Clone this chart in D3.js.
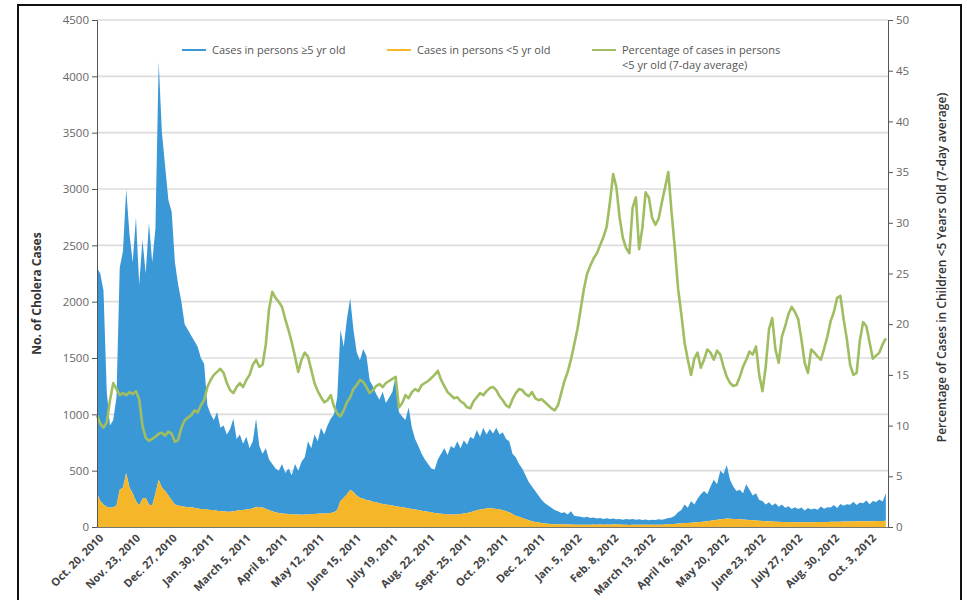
<!DOCTYPE html>
<html>
<head>
<meta charset="utf-8">
<script src="https://cdn.jsdelivr.net/npm/d3@7"></script>
<style>
  body { margin: 0; background: #fff; }
  svg { display: block; font-family: "Open Sans", "Noto Sans", sans-serif; }
</style>
</head>
<body>
<svg id="chart" width="967" height="600"></svg>
<script>
// Daily cholera cases, sampled every 3 days from Oct. 20, 2010
const startDate = "2010-10-20";
const stepDays = 3;

// Cases in persons <5 yr old
const casesUnder5 = [
  300,230,200,180,170,175,190,330,350,480,
  350,300,230,190,250,260,200,190,300,420,
  350,320,280,240,200,190,185,180,175,175,
  170,165,160,160,155,150,150,145,140,140,
  135,135,140,145,150,150,155,160,165,180,
  170,175,160,150,140,130,125,120,118,115,
  112,110,110,108,110,112,115,115,118,120,
  120,122,125,130,150,230,260,290,330,310,
  280,260,250,240,235,225,220,210,205,200,
  195,190,185,180,175,170,165,160,155,150,
  145,140,135,130,125,120,118,115,112,110,
  110,112,115,120,125,130,140,148,155,160,
  165,168,165,160,155,150,140,130,115,100,
  90,80,70,60,52,45,40,35,30,28,
  25,25,24,24,23,22,22,21,20,20,
  20,21,21,22,21,22,21,22,21,24,
  23,22,19,19,18,21,21,19,19,21,
  20,20,19,20,21,23,25,26,27,30,
  32,35,36,38,40,42,45,48,52,56,
  60,64,68,72,75,74,72,70,68,66,
  64,62,60,58,56,54,52,50,48,47,
  46,45,44,44,43,43,42,42,42,42,
  43,43,44,44,45,45,46,46,47,47,
  48,48,49,49,50,50,51,51,52,52,
  53,53,54,55
];

// Cases in persons >=5 yr old
const casesOver5 = [
  2000,2020,1900,1020,730,775,960,1970,2100,2520,
  2250,2050,2520,1960,2300,1990,2500,2160,2350,3710,
  3150,2880,2620,2560,2150,1960,1815,1620,1575,1525,
  1480,1435,1340,1290,925,850,800,875,740,760,
  685,735,820,635,670,590,645,540,595,780,
  550,475,540,450,420,390,375,440,362,405,
  348,450,390,472,510,648,585,705,642,760,
  700,778,835,870,1000,1520,1340,1560,1700,1440,
  1270,1220,1330,1280,1065,1025,960,920,995,900,
  955,1010,1155,840,805,780,895,720,625,570,
  505,460,425,390,385,480,532,585,528,610,
  590,648,585,650,605,670,640,712,645,720,
  655,702,665,720,665,690,640,630,535,520,
  470,440,390,340,308,275,240,205,180,162,
  145,125,116,101,107,88,118,79,75,70,
  65,69,59,63,54,58,51,56,49,51,
  45,50,46,51,48,49,43,49,43,45,
  40,45,43,48,43,49,55,59,73,100,
  118,165,134,192,160,208,245,272,238,304,
  360,316,432,398,475,346,288,250,262,234,
  316,268,220,242,184,176,148,170,142,163,
  134,155,126,141,117,132,118,131,104,126,
  112,122,109,138,117,130,128,149,121,158,
  140,155,149,176,146,168,160,184,151,179,
  170,190,172,245
];

// Percentage of cases in persons <5 yr old (7-day average)
const pctUnder5 = [
  11.0,10.2,9.8,10.3,12.5,14.2,13.6,13.0,13.2,13.0,
  13.3,13.1,13.4,12.6,10.0,8.8,8.5,8.7,8.9,9.2,
  9.3,9.0,9.4,9.2,8.4,8.6,9.8,10.5,10.8,11.0,
  11.5,11.3,12.0,12.5,13.8,14.5,15.0,15.3,15.6,15.2,
  14.2,13.5,13.2,13.8,14.2,13.8,14.5,15.0,16.0,16.5,
  15.8,16.0,18.0,21.5,23.2,22.6,22.2,21.7,20.5,19.4,
  18.2,16.8,15.3,16.5,17.2,16.8,15.5,14.2,13.4,12.8,
  12.3,12.5,13.0,11.9,11.2,10.9,11.5,12.3,12.8,13.6,
  14.0,14.5,14.3,13.8,13.2,13.5,13.9,14.1,13.8,14.2,
  14.4,14.6,14.8,11.8,12.2,13.0,12.7,13.3,13.6,13.4,
  14.0,14.2,14.4,14.7,15.0,15.4,14.5,13.9,13.3,13.0,
  12.7,12.8,12.4,12.2,11.8,11.7,12.4,12.8,13.2,13.0,
  13.4,13.7,13.8,13.5,12.9,12.5,12.0,11.8,12.6,13.2,
  13.6,13.5,13.1,12.9,13.3,12.7,12.5,12.6,12.3,12.0,
  11.7,11.5,12.0,13.2,14.4,15.3,16.5,18.0,19.5,21.5,
  23.5,25.0,25.8,26.5,27.0,27.8,28.6,29.6,32.0,34.8,
  33.5,30.5,28.5,27.5,27.0,31.5,32.5,27.4,29.5,33.0,
  32.5,30.5,29.8,30.4,32.0,33.5,35.0,31.0,27.5,23.5,
  21.0,18.2,16.5,15.0,16.6,17.2,15.7,16.5,17.5,17.2,
  16.5,17.4,17.0,15.8,14.8,14.2,13.9,14.0,14.8,15.8,
  16.5,17.3,17.0,17.8,15.0,13.4,15.8,19.5,20.6,17.5,
  16.2,18.8,19.8,21.0,21.7,21.2,20.5,18.5,16.2,15.2,
  17.5,17.2,16.8,16.5,17.6,18.8,20.3,21.2,22.6,22.8,
  20.5,18.5,16.0,15.0,15.2,18.4,20.2,19.8,18.2,16.6,
  16.9,17.2,18.0,18.6
];

// Axis ticks
const tickDates = [
  "2010-10-20","2010-11-23","2010-12-27","2011-01-30","2011-03-05","2011-04-08",
  "2011-05-12","2011-06-15","2011-07-19","2011-08-22","2011-09-25","2011-10-29",
  "2011-12-02","2012-01-05","2012-02-08","2012-03-13","2012-04-16","2012-05-20",
  "2012-06-23","2012-07-27","2012-08-30","2012-10-03"
];
const tickLabels = [
  "Oct. 20, 2010","Nov. 23, 2010","Dec. 27, 2010","Jan. 30, 2011","March 5, 2011","April 8, 2011",
  "May 12, 2011","June 15, 2011","July 19, 2011","Aug. 22, 2011","Sept. 25, 2011","Oct. 29, 2011",
  "Dec. 2, 2011","Jan. 5, 2012","Feb. 8, 2012","March 13, 2012","April 16, 2012","May 20, 2012",
  "June 23, 2012","July 27, 2012","Aug. 30, 2012","Oct. 3, 2012"
];
const leftTicks = [0,500,1000,1500,2000,2500,3000,3500,4000,4500];
const rightTicks = [0,5,10,15,20,25,30,35,40,45,50];

const colors = { over5: "#3a98d6", under5: "#f6b62a", pct: "#a0bd62" };

const parse = d3.utcParse("%Y-%m-%d");
const start = parse(startDate);
const rows = casesUnder5.map((u, i) => ({
  date: d3.utcDay.offset(start, i * stepDays),
  under5: u,
  over5: casesOver5[i],
  pct: pctUnder5[i]
}));

const svg = d3.select("#chart");
const m = { left: 97, right: 888, top: 20, bottom: 527 };

const x = d3.scaleUtc()
  .domain([start, parse("2012-10-20")])
  .range([m.left, m.right]);
const yL = d3.scaleLinear().domain([0, 4500]).range([m.bottom, m.top]);
const yR = d3.scaleLinear().domain([0, 50]).range([m.bottom, m.top]);

// outer frame
svg.append("rect")
  .attr("x", 18).attr("y", 5).attr("width", 943).attr("height", 620)
  .attr("fill", "none").attr("stroke", "#111").attr("stroke-width", 2);

// gridlines
svg.append("g").selectAll("line")
  .data(leftTicks.filter(d => d > 0))
  .join("line")
  .attr("x1", m.left).attr("x2", m.right)
  .attr("y1", d => yL(d)).attr("y2", d => yL(d))
  .attr("stroke", "#dcdcdc").attr("stroke-width", 1.6);

// stacked areas
const stack = d3.stack().keys(["under5", "over5"]);
const series = stack(rows);
const area = d3.area()
  .x(d => x(d.data.date))
  .y0(d => yL(d[0]))
  .y1(d => yL(d[1]));

svg.append("g").selectAll("path")
  .data(series.slice().reverse())
  .join("path")
  .attr("fill", d => colors[d.key])
  .attr("d", area);

// percentage line
const line = d3.line()
  .x(d => x(d.date))
  .y(d => yR(d.pct));
svg.append("path")
  .datum(rows)
  .attr("fill", "none")
  .attr("stroke", colors.pct)
  .attr("stroke-width", 2.6)
  .attr("stroke-linejoin", "round")
  .attr("d", line);

const numFmt = d3.format("d");

// left axis
const gL = svg.append("g")
  .attr("transform", `translate(${m.left},0)`)
  .call(d3.axisLeft(yL).tickValues(leftTicks).tickFormat(numFmt).tickSize(5).tickPadding(3));
gL.select(".domain").attr("stroke", "#555");
gL.selectAll(".tick line").attr("stroke", "#555");
gL.selectAll("text").attr("fill", "#666").attr("font-size", 11.5)
  .attr("font-family", "'Open Sans', sans-serif");

// right axis
const gR = svg.append("g")
  .attr("transform", `translate(${m.right},0)`)
  .call(d3.axisRight(yR).tickValues(rightTicks).tickFormat(numFmt).tickSize(5).tickPadding(3));
gR.select(".domain").attr("stroke", "#555");
gR.selectAll(".tick line").attr("stroke", "#555");
gR.selectAll("text").attr("fill", "#666").attr("font-size", 11.5)
  .attr("font-family", "'Open Sans', sans-serif");

// bottom axis
const gB = svg.append("g")
  .attr("transform", `translate(0,${m.bottom})`)
  .call(d3.axisBottom(x)
    .tickValues(tickDates.map(parse))
    .tickFormat((d, i) => tickLabels[i])
    .tickSize(0).tickPadding(0));
gB.select(".domain").attr("stroke", "#777").attr("stroke-width", 1);
gB.selectAll("text")
  .attr("font-size", 11)
  .attr("font-weight", 700)
  .attr("fill", "#444")
  .attr("font-family", "'Open Sans', sans-serif")
  .attr("text-anchor", "end")
  .attr("dy", "0.35em")
  .attr("transform", "translate(4,9) rotate(-45)");

// axis titles
svg.append("text")
  .attr("transform", `translate(41,${(m.top + m.bottom) / 2 + 20}) rotate(-90)`)
  .attr("text-anchor", "middle")
  .attr("font-size", 12).attr("font-weight", 700).attr("fill", "#333")
  .text("No. of Cholera Cases");
svg.append("text")
  .attr("transform", `translate(946,${(m.top + m.bottom) / 2 - 6}) rotate(-90)`)
  .attr("text-anchor", "middle")
  .attr("font-size", 12).attr("font-weight", 600).attr("fill", "#333")
  .text("Percentage of Cases in Children <5 Years Old (7-day average)");

// legend
const legendItems = [
  { key: "over5", x: 182, lines: ["Cases in persons \u22655 yr old"] },
  { key: "under5", x: 387, lines: ["Cases in persons <5 yr old"] },
  { key: "pct", x: 592, lines: ["Percentage of cases in persons", "<5 yr old (7-day average)"] }
];
const lg = svg.append("g").selectAll("g").data(legendItems).join("g")
  .attr("transform", d => `translate(${d.x},50)`);
lg.append("line")
  .attr("x1", 0).attr("x2", 24).attr("y1", 0).attr("y2", 0)
  .attr("stroke", d => colors[d.key]).attr("stroke-width", 2);
lg.append("text")
  .attr("x", 30).attr("y", 0)
  .attr("font-size", 11).attr("fill", "#555")
  .selectAll("tspan").data(d => d.lines).join("tspan")
  .attr("x", 30)
  .attr("dy", (d, i) => i === 0 ? "0.35em" : "1.35em")
  .text(d => d);
</script>
</body>
</html>
